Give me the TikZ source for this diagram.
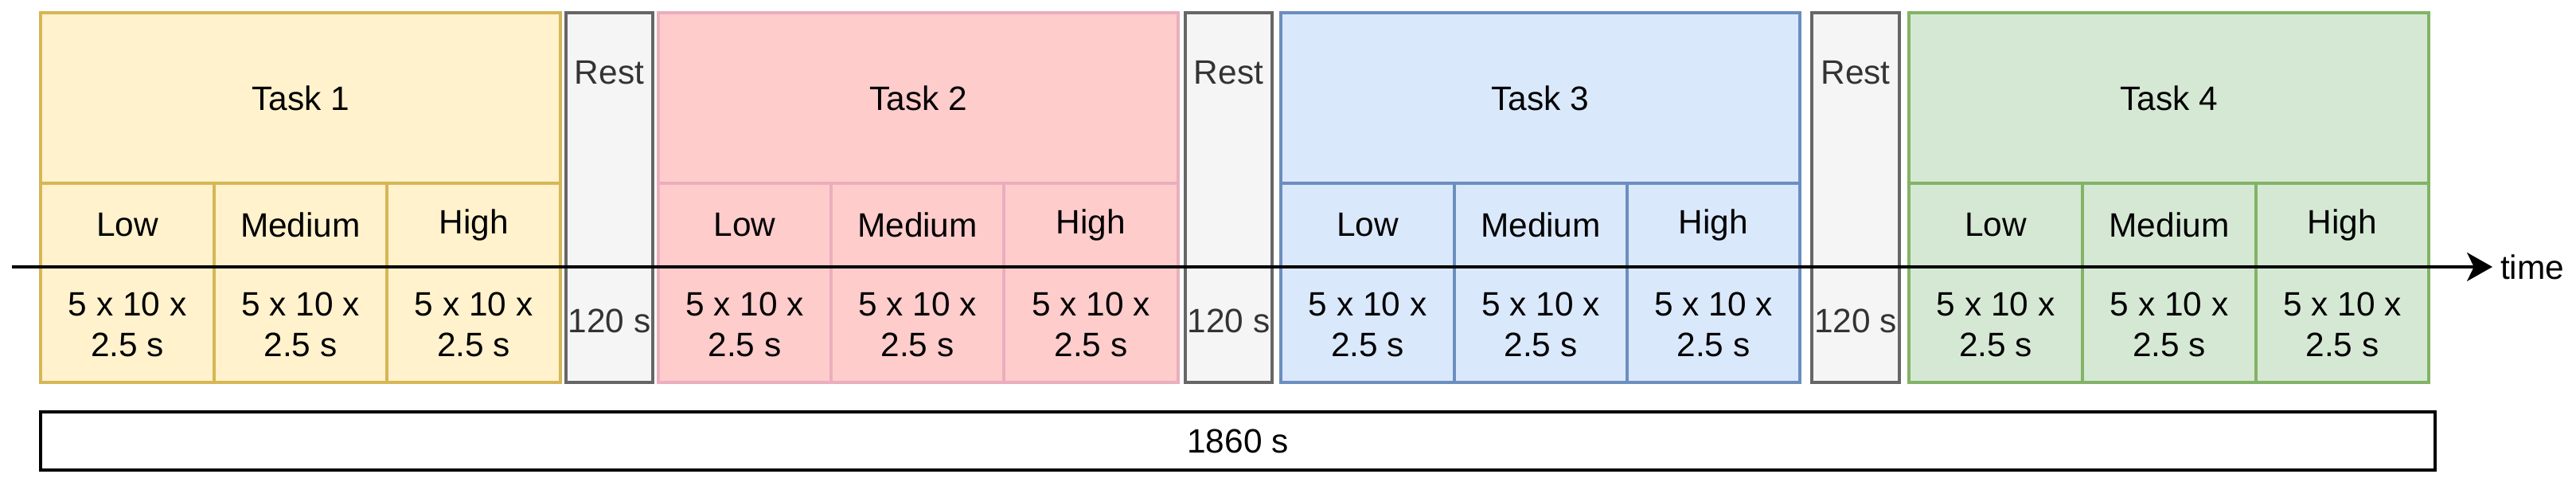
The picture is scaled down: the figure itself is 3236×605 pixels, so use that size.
\documentclass[tikz,border=0pt]{standalone}
\usepackage{fontspec}
\setmainfont{Liberation Sans}
\usetikzlibrary{arrows.meta}
\definecolor{yfill}{HTML}{FFF2CC}\definecolor{ydraw}{HTML}{D6B656}
\definecolor{rfill}{HTML}{FFCCCC}\definecolor{rdraw}{HTML}{EAAEBD}
\definecolor{bfill}{HTML}{DAE8FC}\definecolor{bdraw}{HTML}{6C8EBF}
\definecolor{gfill}{HTML}{D5E8D4}\definecolor{gdraw}{HTML}{82B366}
\definecolor{restfill}{HTML}{F5F5F5}\definecolor{restdraw}{HTML}{666666}
\definecolor{resttxt}{HTML}{333333}
\newcommand{\cellbox}[7]{\node[#6, minimum width={(#4-#2)*0.25pt}, minimum height={(#5-#3)*0.25pt}] (#1) at ({(#2+#4)/2},{(#3+#5)/2}) {#7};}
\newcommand{\taskblock}[7]{%
  \cellbox{t#1}{#2}{16}{#5}{230}{#6}{Task #7}
  \cellbox{t#1l}{#2}{230}{#3}{335}{#6}{Low}
  \cellbox{t#1m}{#3}{230}{#4}{335}{#6}{Medium}
  \cellbox{t#1h}{#4}{230}{#5}{335}{#6}{High}
  \cellbox{t#1a}{#2}{335}{#3}{480}{#6}{5 x 10 x\\2.5 s}
  \cellbox{t#1b}{#3}{335}{#4}{480}{#6}{5 x 10 x\\2.5 s}
  \cellbox{t#1c}{#4}{335}{#5}{480}{#6}{5 x 10 x\\2.5 s}
}
\begin{document}
\begin{tikzpicture}[x=0.25pt,y=-0.25pt,
  every node/.style={inner sep=0pt, outer sep=0pt, align=center, font=\fontsize{10.6}{12.75}\selectfont},
  ytask/.style={draw=ydraw, fill=yfill, line width=0.8pt},
  rtask/.style={draw=rdraw, fill=rfill, line width=0.8pt},
  btask/.style={draw=bdraw, fill=bfill, line width=0.8pt},
  gtask/.style={draw=gdraw, fill=gfill, line width=0.8pt},
  restbox/.style={draw=restdraw, fill=restfill, line width=0.9pt},
  resttext/.style={text=resttxt},
  totalbox/.style={draw=black, fill=white, line width=1pt},
  timeline/.style={line width=0.8pt, -{Stealth[length=8pt, width=9pt, inset=2.2pt]}}
]
\useasboundingbox (0,0) rectangle (3236,605);
\taskblock{1}{51}{269}{486}{704}{ytask}{1}
\taskblock{2}{827}{1044}{1261}{1480}{rtask}{2}
\taskblock{3}{1609}{1827}{2044}{2261}{btask}{3}
\taskblock{4}{2398}{2616}{2834}{3051}{gtask}{4}
\cellbox{r1}{711}{16}{820}{480}{restbox}{}
\cellbox{r2}{1489}{16}{1598}{480}{restbox}{}
\cellbox{r3}{2276}{16}{2386}{480}{restbox}{}
\node[resttext] (r1t) at (765.5,91) {Rest};
\node[resttext] (r1d) at (765.5,403) {120 s};
\node[resttext] (r2t) at (1543.5,91) {Rest};
\node[resttext] (r2d) at (1543.5,403) {120 s};
\node[resttext] (r3t) at (2331,91) {Rest};
\node[resttext] (r3d) at (2331,403) {120 s};
\cellbox{total}{51}{517}{3059}{590}{totalbox}{1860 s}
\coordinate (tstart) at (15,335);
\node[anchor=west] (time) at (3141,335) {time};
\draw[timeline] (tstart) -- (time.west -| 3131,335);
\end{tikzpicture}
\end{document}
